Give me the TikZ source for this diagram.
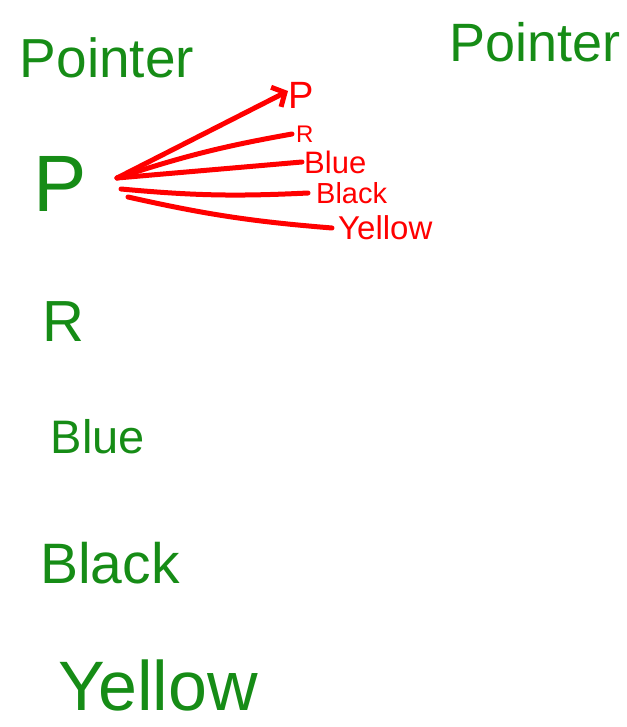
\documentclass[tikz,border=0pt]{standalone}
\usepackage{fontspec}
\setmainfont{Liberation Sans}
\usepackage{xcolor}
\usetikzlibrary{arrows.meta, positioning}

\definecolor{penGreen}{RGB}{22,140,22}
\definecolor{penRed}{RGB}{255,0,0}

\tikzset{
  word/.style={text=penGreen, inner sep=0pt, anchor=center},
  tag/.style={text=penRed, inner sep=0pt, anchor=west},
  stroke/.style={draw=penRed, line width=5pt, line cap=round}
}

\begin{document}
\begin{tikzpicture}[x=1pt, y=-1pt]
\useasboundingbox (0,0) rectangle (626,727);

% column of names on the left
\node[word, font=\fontsize{55}{55}\selectfont] (ptrL) at (107,58) {Pointer};
\node[word, font=\fontsize{54}{54}\selectfont] (ptrR) at (535,42) {Pointer};
\node[word, font=\fontsize{80}{80}\selectfont] (nP) at (60,184) {P};
\node[word, font=\fontsize{58}{58}\selectfont] (nR) at (63,322) {R};
\node[word, font=\fontsize{47}{47}\selectfont] (nBlue) at (98,437) {Blue};
\node[word, font=\fontsize{57}{57}\selectfont] (nBlack) at (110,563) {Black};
\node[word, font=\fontsize{70}{70}\selectfont] (nYellow) at (158,685) {Yellow};

% red targets
\node[tag, font=\fontsize{38}{38}\selectfont] (tP) at (288,95) {P};
\node[tag, font=\fontsize{24}{24}\selectfont] (tR) at (296,134) {R};
\node[tag, font=\fontsize{31}{31}\selectfont] (tBlue) at (304,162) {Blue};
\node[tag, font=\fontsize{29}{29}\selectfont] (tBlack) at (316,193) {Black};
\node[tag, font=\fontsize{33}{33}\selectfont] (tYellow) at (338,228) {Yellow};

\coordinate (src) at (117,178);
\coordinate (srcB) at (121,189);
\coordinate (srcC) at (128,197);

\draw[stroke, -{Straight Barb[length=10pt, width=22pt]}] (src) -- ([yshift=4pt]tP.west);
\draw[stroke] (src) to[bend left=4] ([xshift=-4pt]tR.west);
\draw[stroke] (src) -- ([xshift=-2pt]tBlue.west);
\draw[stroke] (srcB) to[bend right=4] ([xshift=-8pt]tBlack.west);
\draw[stroke] (srcC) to[bend right=4] ([xshift=-6pt]tYellow.west);
\end{tikzpicture}
\end{document}
